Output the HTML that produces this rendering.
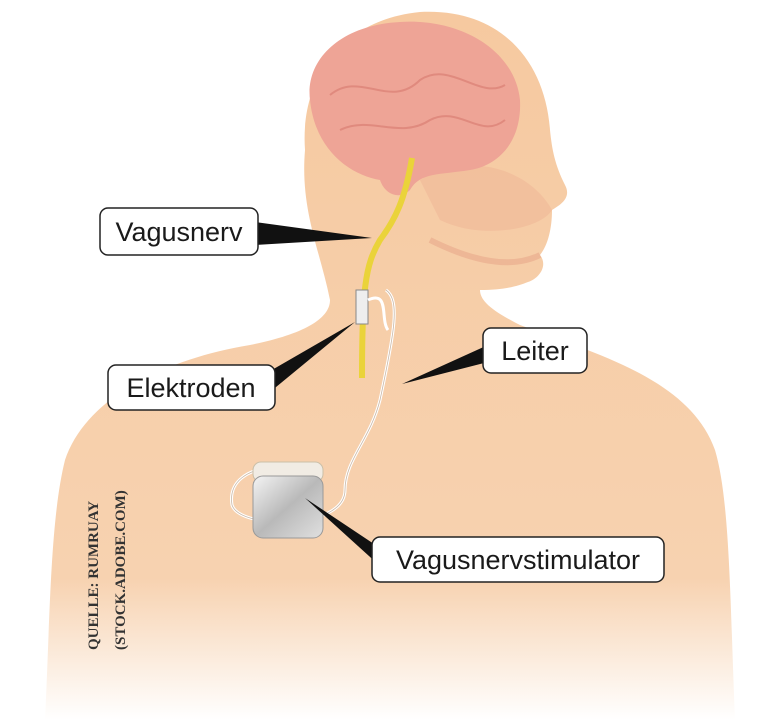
<!DOCTYPE html>
<html><head><meta charset="utf-8"><style>
html,body{margin:0;padding:0;background:#fff;}
svg{display:block;}
.lbl{font-family:"Liberation Sans",sans-serif;font-size:27px;fill:#1a1a1a;}
</style></head><body>
<svg width="779" height="720" viewBox="0 0 779 720" xmlns="http://www.w3.org/2000/svg">
<defs>
<linearGradient id="fade" x1="0" y1="0" x2="0" y2="1">
<stop offset="0" stop-color="#f6c9a0"/>
<stop offset="0.8" stop-color="#f7d2b0"/>
<stop offset="1" stop-color="#fff"/>
</linearGradient>
<linearGradient id="dev" x1="0" y1="0" x2="1" y2="1">
<stop offset="0" stop-color="#f4f4f4"/>
<stop offset="0.5" stop-color="#b9b9b9"/>
<stop offset="1" stop-color="#e0e0e0"/>
</linearGradient>
</defs>
<path d="M330,300 C320,250 300,210 305,150 C300,80 340,20 420,12 C500,8 545,60 550,130 C552,150 555,165 565,185 C572,198 560,205 552,210 C552,228 548,245 540,255 C548,265 540,278 528,282 C518,286 505,290 480,290 C480,300 490,310 520,325 C600,355 690,380 715,450 C730,500 730,600 735,720 L45,720 C50,620 50,520 65,460 C85,400 160,360 250,345 C300,335 330,320 330,300 Z" fill="url(#fade)"/>
<path d="M420,180 C470,150 530,170 552,210 C540,230 480,240 440,220 Z" fill="#f0b898" opacity="0.6"/>
<path d="M430,240 C470,260 510,270 540,255" stroke="#e7a88a" stroke-width="6" fill="none" opacity="0.6"/>
<path d="M310,100 C305,60 340,25 400,22 C460,18 515,50 520,100 C522,140 500,165 470,170 C440,175 420,172 410,190 C400,200 385,195 380,180 C350,175 315,150 310,100 Z" fill="#eea496"/>
<path d="M330,95 C360,70 390,110 420,80 C450,60 480,100 505,85 M340,130 C370,115 400,140 430,120 C460,105 480,140 505,120" stroke="#e08a7e" stroke-width="2" fill="none"/>
<path d="M412,158 C405,200 395,220 380,240 C365,265 362,290 362,378" stroke="#ead33a" stroke-width="6" fill="none"/>
<rect x="356" y="290" width="12" height="34" fill="#eee" stroke="#888"/>
<path d="M368,300 C390,290 380,320 388,330 M386,290 C400,300 395,330 380,400 C370,440 345,460 345,490 C345,530 240,530 232,505 C228,480 250,470 268,468" stroke="#fff" stroke-width="3" fill="none"/>
<path d="M386,290 C400,300 395,330 380,400 C370,440 345,460 345,490 C345,530 240,530 232,505 C228,480 250,470 268,468" stroke="#c9b8a8" stroke-width="0.8" fill="none"/>
<rect x="253" y="462" width="70" height="20" rx="8" fill="#f1ece4" stroke="#cbbfa8"/>
<rect x="253" y="476" width="70" height="62" rx="10" fill="url(#dev)" stroke="#999"/>
<polygon points="255,222 255,245 372,238" fill="#111"/>
<polygon points="258,378 270,392 355,322" fill="#111"/>
<polygon points="488,345 488,362 402,384" fill="#111"/>
<polygon points="380,548 380,566 305,498" fill="#111"/>
<rect x="100" y="208" width="158" height="47" rx="8" fill="#fff" stroke="#222" stroke-width="1.5"/>
<text class="lbl" x="179" y="241" text-anchor="middle">Vagusnerv</text>
<rect x="108" y="365" width="167" height="45" rx="8" fill="#fff" stroke="#222" stroke-width="1.5"/>
<text class="lbl" x="191" y="397" text-anchor="middle">Elektroden</text>
<rect x="483" y="328" width="104" height="45" rx="8" fill="#fff" stroke="#222" stroke-width="1.5"/>
<text class="lbl" x="535" y="360" text-anchor="middle">Leiter</text>
<rect x="372" y="537" width="292" height="45" rx="8" fill="#fff" stroke="#222" stroke-width="1.5"/>
<text class="lbl" x="518" y="569" text-anchor="middle">Vagusnervstimulator</text>
<text x="98" y="650" transform="rotate(-90 98 650)" font-family="Liberation Serif,serif" font-size="15" font-weight="bold" fill="#333">QUELLE: RUMRUAY</text>
<text x="125" y="650" transform="rotate(-90 125 650)" font-family="Liberation Serif,serif" font-size="15" font-weight="bold" fill="#333">(STOCK.ADOBE.COM)</text>
</svg>
</body></html>
